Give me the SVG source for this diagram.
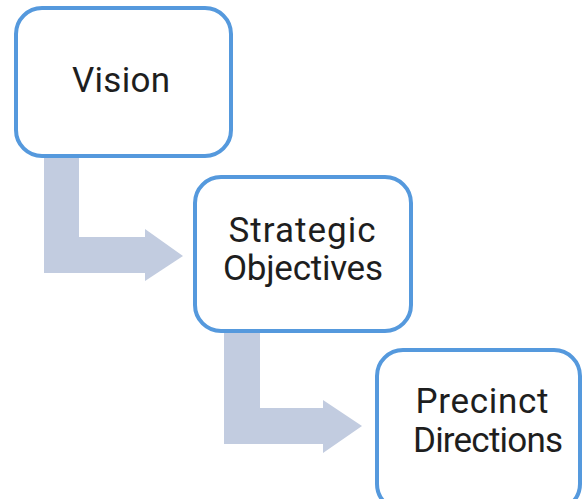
<svg xmlns="http://www.w3.org/2000/svg" width="584" height="499" viewBox="0 0 584 499">
<defs>
<style>
.box{fill:#ffffff;stroke:#5599dd;stroke-width:4}
.arrow{fill:#c2cce0}
.lbl{font-family:Roboto,"Liberation Sans",sans-serif;font-size:35px;fill:#1e1e1e;text-anchor:middle}
</style>
</defs>
<rect width="584" height="499" fill="#ffffff"/>
<g id="connectors">
<path class="arrow" d="M44,157 H79 V237 H145 V229 L183,256 L145,281 V273 H44 Z"/>
<path class="arrow" d="M224,332 H260 V408 H323 V400 L362,426 L323,453 V444 H224 Z"/>
</g>
<g id="vision">
<rect class="box" x="16" y="8" width="215" height="148" rx="26"/>
<text class="lbl" x="121" y="92" textLength="98" lengthAdjust="spacing">Vision</text>
</g>
<g id="strategic">
<rect class="box" x="195" y="177" width="216" height="154" rx="26"/>
<text class="lbl" x="302" y="242" textLength="147" lengthAdjust="spacing">Strategic</text>
<text class="lbl" x="303" y="280" textLength="160" lengthAdjust="spacing">Objectives</text>
</g>
<g id="precinct">
<rect class="box" x="377" y="350" width="203" height="160" rx="26"/>
<text class="lbl" x="482" y="413" textLength="133" lengthAdjust="spacing">Precinct</text>
<text class="lbl" x="488" y="452" textLength="150" lengthAdjust="spacing">Directions</text>
</g>
</svg>
